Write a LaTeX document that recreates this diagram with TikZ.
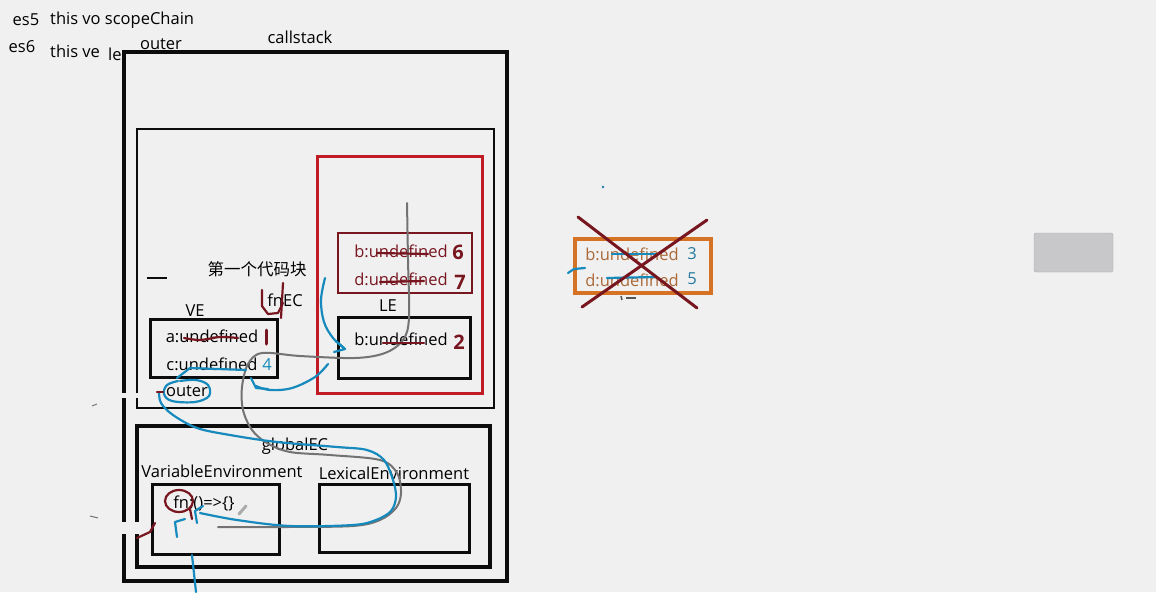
\documentclass[tikz,border=0pt]{standalone}
\usepackage{fontspec}
\setmainfont{Open Sans}
\newfontfamily\cjkfont{Noto Sans CJK SC}
\usetikzlibrary{arrows,calc}
\usepackage{tkz-euclide}
\definecolor{BgClr}{RGB}{240,240,241}
\definecolor{BoxClr}{RGB}{12,12,12}
\definecolor{FrameClr}{RGB}{192,28,38}
\definecolor{InkRedClr}{RGB}{120,22,32}
\definecolor{InkBlueClr}{RGB}{22,138,188}
\definecolor{InkGrayClr}{RGB}{115,115,115}
\definecolor{OrangeClr}{RGB}{214,114,36}
\definecolor{OrangeTxtClr}{RGB}{170,105,55}
\definecolor{NumClr}{RGB}{38,122,158}
\definecolor{KeyClr}{RGB}{200,200,202}

\tikzset{
  txt/.style={font=\fontsize{16.5}{19}\selectfont,inner sep=0pt,text=black},
  hand/.style={font=\fontsize{20}{22}\selectfont\bfseries,inner sep=0pt},
  ink/.style={line width=2.2pt,line cap=round,line join=round},
}

\begin{document}
\begin{tikzpicture}[x=1pt,y=-1pt]
\fill[BgClr] (0,0) rectangle (1156,592);
\useasboundingbox (0,0) rectangle (1156,592);

\tkzDefPoints{124/52/CsA,507/581/CsB,137/129/FnA,494/408/FnB,317/156/LeA,482/393/LeB}
\tkzDefPoints{338/233/BdA,472/293/BdB,338/317/LbA,470/378/LbB,150/319/VeA,277/377/VeB}
\tkzDefPoints{137/426/GlA,490/567/GlB,152/484/VaA,279/554/VaB,319/484/LxA,469/552/LxB}
\tkzDefPoints{575/239/OrA,711/293/OrB,1034/233/KyA,1113/272/KyB}
\tkzDefPoints{578/217/XA,697/308/XB,707/220/XC,582/307/XD}

% boxes
\draw[BoxClr,line width=4pt] (CsA) rectangle (CsB);
\draw[BoxClr,line width=2.6pt] (FnA) rectangle (FnB);
\draw[FrameClr,line width=3pt] (LeA) rectangle (LeB);
\draw[InkRedClr,line width=1.6pt] (BdA) rectangle (BdB);
\draw[BoxClr,line width=3pt] (LbA) rectangle (LbB);
\draw[BoxClr,line width=3pt] (VeA) rectangle (VeB);
\draw[BoxClr,line width=4pt] (GlA) rectangle (GlB);
\draw[BoxClr,line width=3pt] (VaA) rectangle (VaB);
\draw[BoxClr,line width=3pt] (LxA) rectangle (LxB);
\fill[BgClr] (115,393) rectangle (145,398);
\fill[BgClr] (115,522) rectangle (145,534);
\draw[BoxClr,line width=1.5pt] (147,278) -- (167,278);

% texts
\node[txt] (es5) at (26,20) {es5};
\node[txt,anchor=west] (thisvo) at (50,20) {this vo scopeChain};
\node[txt] (es6) at (22,47) {es6};
\node[txt,anchor=west] (thisve) at (50,51) {this ve};
\node[txt,anchor=west] (le) at (108,54) {le};
\node[txt] (outertop) at (161,44) {outer};
\node[txt] (callstack) at (300,37) {callstack};
\node[txt] (firstblock) at (257,269) {\cjkfont 第一个代码块};
\node[txt] (fnEC) at (285,300) {fnEC};
\node[txt] (VE) at (195,311) {VE};
\node[txt] (LE) at (388,306) {LE};
\node[txt] (aundef) at (212,336) {a:undefined};
\node[txt] (cundef) at (212,364) {c:undefined};
\node[txt,text=InkBlueClr] (cnum) at (267,365) {4};
\node[txt] (outerve) at (187,391) {outer};
\node[txt,text=InkRedClr] (bred) at (401,251) {b:undefined};
\node[hand,text=InkRedClr] (bnum) at (458,252) {6};
\node[txt,text=InkRedClr] (dred) at (401,279) {d:undefined};
\node[hand,text=InkRedClr] (dnum) at (460,282) {7};
\node[txt] (ble) at (401,339) {b:undefined};
\node[hand,text=InkRedClr] (blenum) at (459,342) {2};
\node[txt] (globalEC) at (295,446) {globalEC};
\node[txt] (varenv) at (222,471) {VariableEnvironment};
\node[txt] (lexenv) at (394,473) {LexicalEnvironment};
\node[txt] (fndef) at (204,503) {fn:()=>\{\}};
\node[txt,text=OrangeTxtClr] (obundef) at (632,254) {b:undefined};
\node[txt,text=NumClr] (obnum) at (692,254) {3};
\node[txt,text=OrangeTxtClr] (odundef) at (632,280) {d:undefined};
\node[txt,text=NumClr] (odnum) at (692,279) {5};

% orange box and cross
\draw[OrangeClr,line width=3.5pt] (OrA) rectangle (OrB);
\draw[fill=KeyClr,draw=KeyClr!85!black,rounded corners=2pt] (KyA) rectangle (KyB);

% gray stroke
\draw[InkGrayClr,line width=2pt,line cap=round] plot[smooth,tension=.55] coordinates {(407,203) (408,260) (409,318) (403,340) (385,353) (355,358) (300,356) (262,353) (248,364) (242,387) (243,410) (252,430) (267,443) (290,452) (330,455) (380,460) (397,473) (401,493) (396,508) (380,520) (353,526) (287,527) (218,527)};

% blue strokes
\draw[InkBlueClr,ink] plot[smooth,tension=.55] coordinates {(159,392) (161,403) (173,415) (197,428) (230,435) (277,442) (337,447) (367,450) (384,460) (393,480) (396,497) (391,511) (376,520) (353,525) (290,526) (237,520) (200,513)};
\draw[InkBlueClr,ink] (203,506) -- (195,511) -- (197,523);
\draw[InkBlueClr,ink] plot[smooth,tension=.6] coordinates {(178,381) (167,385) (164,394) (172,401) (195,402) (209,396) (208,385) (196,380) (180,381)};
\draw[InkBlueClr,ink] (177,378) -- (190,368) -- (246,370);
\draw[InkBlueClr,ink] plot[smooth,tension=.6] coordinates {(328,364) (315,377) (292,388) (270,390) (256,386)};
\draw[InkBlueClr,ink] (251,378) -- (256,388) -- (268,389);
\draw[InkBlueClr,ink] plot[smooth,tension=.6] coordinates {(325,278) (321,300) (324,322) (333,338) (344,348)};
\draw[InkBlueClr,ink] (336,341) -- (345,349) -- (334,352);
\draw[InkBlueClr,ink] (192,555) -- (196,592);
\draw[InkBlueClr,ink] (185,519) -- (175,522) -- (177,537);
\draw[InkBlueClr,ink] (568,273) -- (574,269) -- (585,268);
\draw[InkBlueClr,ink] (612,254) -- (658,254);
\draw[InkBlueClr,ink] (607,278) -- (655,277);
\fill[NumClr] (603,187) circle (1.3);

% red strokes
\draw[InkRedClr,ink] plot[smooth] coordinates {(184,338) (200,340) (220,337) (238,338)};
\draw[InkRedClr,ink,line width=3pt] (266,330) -- (266,344);
\draw[InkRedClr,ink] (377,253) -- (428,254);
\draw[InkRedClr,ink] (380,282) -- (424,281);
\draw[InkRedClr,ink] (383,343) -- (424,343);
\draw[InkRedClr,ink] (262,290) -- (262,306) -- (268,314) -- (278,313) -- (283,303);
\draw[InkRedClr,ink] (283,283) -- (281,318);
\draw[InkRedClr,ink] (179,501) ellipse [x radius=14,y radius=11];
\draw[InkRedClr,ink] (190,509) -- (192,519);
\draw[InkRedClr,ink] (137,538) -- (150,532) -- (155,523);
\draw[InkRedClr,ink] (157,392) -- (163,392);
\tkzDrawSegment[color=InkRedClr,line width=3pt](XA,XB)
\tkzDrawSegment[color=InkRedClr,line width=3pt](XC,XD)

% small marks
\draw[InkGrayClr,line width=1pt] (92,406) -- (97,404);
\draw[InkGrayClr,line width=1pt] (90,516) -- (98,518);
\draw[InkGrayClr!60,line width=3pt,line cap=round] (239,514) -- (246,506);
\draw[BoxClr!70,line width=1.5pt] (621,296) -- (622,300);
\draw[BoxClr!70,line width=1.5pt] (626,298) -- (636,298);

\end{tikzpicture}
\end{document}
